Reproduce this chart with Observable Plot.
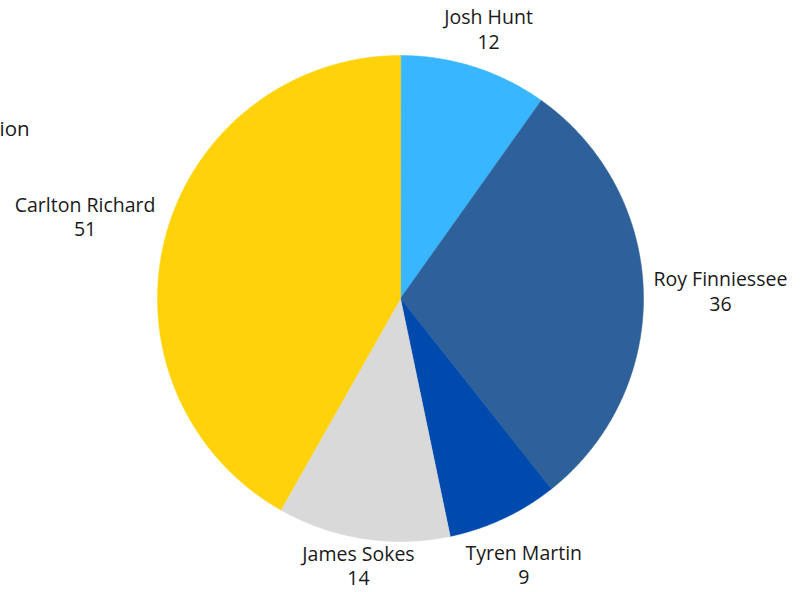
<!DOCTYPE html>
<html>
<head>
<meta charset="utf-8">
<script src="https://cdn.jsdelivr.net/npm/d3@7"></script>
<script src="https://cdn.jsdelivr.net/npm/@observablehq/plot@0.6"></script>
<style>
  html, body { margin: 0; padding: 0; background: #fff; }
  #chart { width: 806px; height: 592px; overflow: hidden; }
</style>
</head>
<body>
<div id="chart"></div>
<script>
const names = ["Josh Hunt", "Roy Finniessee", "Tyren Martin", "James Sokes", "Carlton Richard"];
const values = [12, 36, 9, 14, 51];
const colors = ["#38b6ff", "#2e6099", "#004aad", "#d9d9d9", "#ffd20a"];
const titleText = "ion"; // only the visible tail of the (cropped) title

const arcs = d3.pie().sort(null).value((d, i) => values[i])(names);

// polygon points for each slice (angles measured clockwise from 12 o'clock)
const pts = [];
arcs.forEach((a, i) => {
  const name = names[i];
  pts.push({name, x: 0, y: 0});
  const n = Math.max(2, Math.ceil((a.endAngle - a.startAngle) / (Math.PI / 360)));
  for (let k = 0; k <= n; k++) {
    const t = a.startAngle + (a.endAngle - a.startAngle) * k / n;
    pts.push({name, x: Math.sin(t), y: Math.cos(t)});
  }
});

// label pixel nudges (style options, not data)
const labelStyle = {
  "Josh Hunt": {dx: 9, dy: -22},
  "Roy Finniessee": {dx: 60, dy: -1},
  "Tyren Martin": {dx: 13, dy: 30},
  "James Sokes": {dx: -2, dy: 10},
  "Carlton Richard": {dx: -64, dy: -16}
};
const LR = 1.07;
const labels = arcs.map((a, i) => {
  const mid = (a.startAngle + a.endAngle) / 2;
  return {name: names[i], value: values[i], x: LR * Math.sin(mid), y: LR * Math.cos(mid), ...labelStyle[names[i]]};
});

const R = 243, cx = 400, cy = 298;
const plot = Plot.plot({
  width: 806,
  height: 592,
  margin: 0,
  style: {fontFamily: "'Open Sans', sans-serif", background: "#fff"},
  x: {domain: [-1, 1], range: [cx - R, cx + R], axis: null},
  y: {domain: [-1, 1], range: [cy + R, cy - R], axis: null},
  color: {domain: names, range: colors},
  marks: [
    Plot.line(pts, {x: "x", y: "y", z: "name", fill: "name", stroke: "name", strokeWidth: 0.5, curve: "linear-closed"}),
    ...labels.map(l => Plot.text([l], {
      x: "x", y: "y",
      text: d => `${d.name}\n${d.value}`,
      textAnchor: "middle",
      lineAnchor: "middle",
      lineHeight: 1.25,
      dx: l.dx, dy: l.dy,
      fontSize: 19.5,
      fill: "#1a1a1a"
    })),
    Plot.text([titleText], {frameAnchor: "top-left", textAnchor: "start", dx: -1, dy: 129, fontSize: 20.5, fill: "#1a1a1a", lineAnchor: "middle"})
  ]
});
document.getElementById("chart").append(plot);
</script>
</body>
</html>
